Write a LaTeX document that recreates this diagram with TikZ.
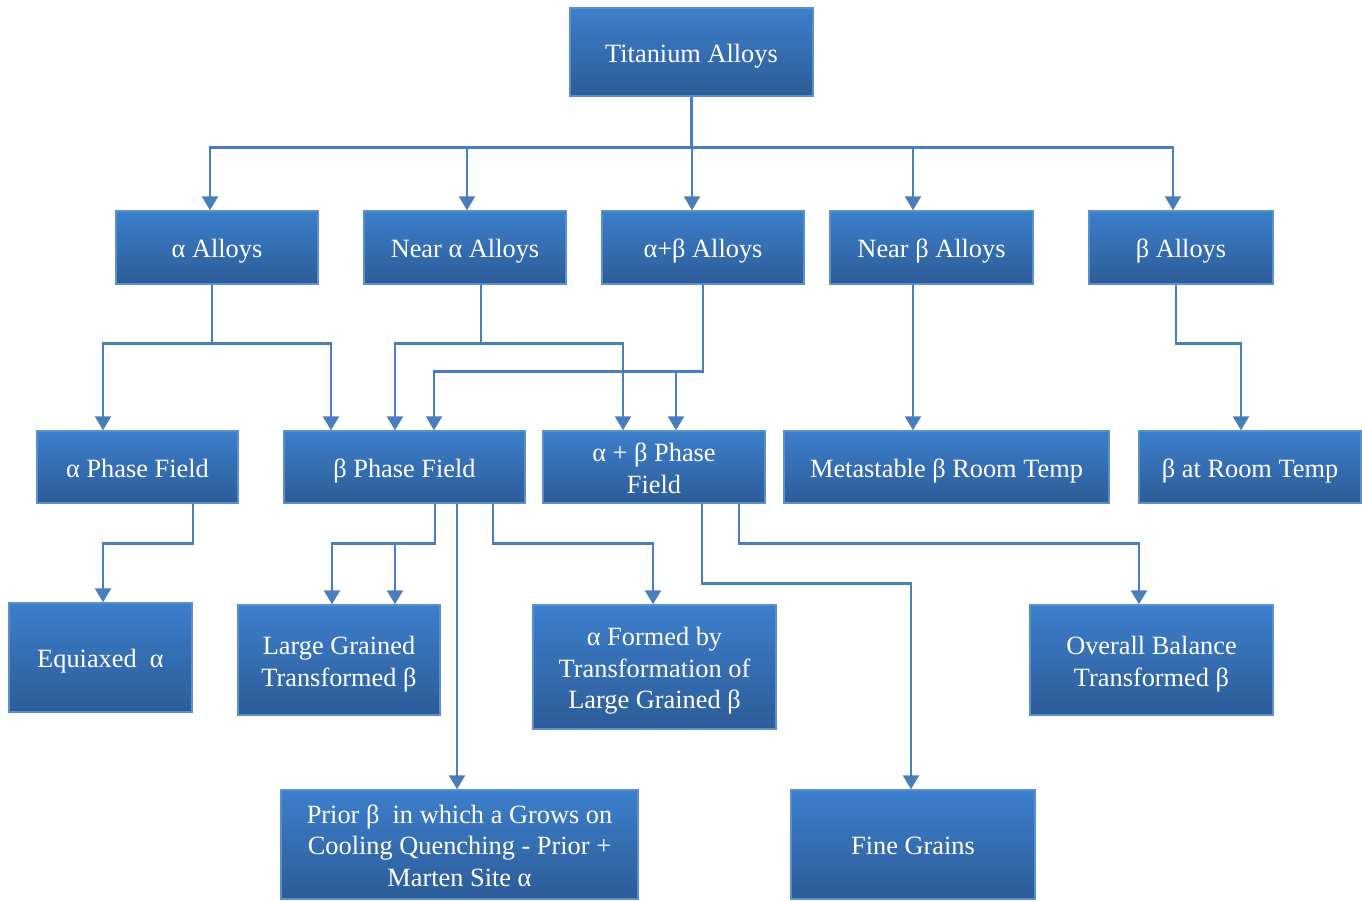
\documentclass[tikz,border=0pt]{standalone}
\usepackage{fontspec}
\setmainfont{Liberation Serif}
\newfontfamily\boxfont{Liberation Serif}
\usetikzlibrary{positioning, calc, arrows.meta}
\definecolor{BoxTop}{HTML}{3C7FCC}
\definecolor{BoxBottom}{HTML}{2D5C98}
\definecolor{BoxEdge}{HTML}{5A8FD0}
\definecolor{LinkBlue}{HTML}{4A7EBB}
% box text, set a little below the middle as in the original
\newcommand{\boxtext}[1]{\raisebox{-0.08cm}[\height][\depth]{\begin{tabular}{@{}c@{}}#1\end{tabular}}}

\begin{document}
\begin{tikzpicture}[
  x=0.02cm, y=-0.02cm,
  box/.style={draw=BoxEdge, line width=0.8pt, top color=BoxTop, bottom color=BoxBottom,
    text=white, inner sep=2pt,
    font=\boxfont\fontsize{15}{18}\selectfont},
  line/.style={LinkBlue, line width=1.4pt},
  arr/.style={line, -{Triangle[length=0.28cm, width=0.32cm]}},
]
  \def\u{0.02cm} % one pixel
  \useasboundingbox (0,0) rectangle (1362,900);

  % Root
  \node[box, minimum width=243*\u, minimum height=88*\u] (ti) at (691.5,52) {\boxtext{Titanium Alloys}};

  % Alloy classes
  \node[box, minimum width=202*\u, minimum height=73*\u] (aA)  at (217,247.5)   {\boxtext{α Alloys}};
  \node[box, minimum width=202*\u, minimum height=73*\u] (naA) at (465,247.5)   {\boxtext{Near α Alloys}};
  \node[box, minimum width=202*\u, minimum height=73*\u] (abA) at (703,247.5)   {\boxtext{α+β Alloys}};
  \node[box, minimum width=203*\u, minimum height=73*\u] (nbA) at (931.5,247.5) {\boxtext{Near β Alloys}};
  \node[box, minimum width=184*\u, minimum height=73*\u] (bA)  at (1181,247.5)  {\boxtext{β Alloys}};

  % Phase fields
  \node[box, minimum width=201*\u, minimum height=72*\u] (aPF)  at (137.5,467) {\boxtext{α Phase Field}};
  \node[box, minimum width=241*\u, minimum height=72*\u] (bPF)  at (404.5,467) {\boxtext{β Phase Field}};
  \node[box, minimum width=222*\u, minimum height=72*\u] (abPF) at (654,467)   {\boxtext{α + β Phase\\Field}};
  \node[box, minimum width=325*\u, minimum height=72*\u] (msb)  at (946.5,467) {\boxtext{Metastable β Room Temp}};
  \node[box, minimum width=222*\u, minimum height=72*\u] (bRT)  at (1250,467)  {\boxtext{β at Room Temp}};

  % Microstructures
  \node[box, minimum width=183*\u, minimum height=109*\u] (eqa) at (100.5,657.5) {\boxtext{Equiaxed~~α}};
  \node[box, minimum width=202*\u, minimum height=110*\u] (lgt) at (339,660) {\boxtext{Large Grained\\Transformed β}};
  \node[box, minimum width=243*\u, minimum height=124*\u] (afb) at (654.5,667) {\boxtext{α Formed by\\Transformation of\\Large Grained β}};
  \node[box, minimum width=243*\u, minimum height=110*\u] (ob)  at (1151.5,660) {\boxtext{Overall Balance\\Transformed β}};
  \node[box, minimum width=357*\u, minimum height=109*\u] (prior) at (459.5,844.5) {\boxtext{Prior β~~in which a Grows on\\Cooling Quenching - Prior +\\Marten Site α}};
  \node[box, minimum width=244*\u, minimum height=109*\u] (fg)  at (913,844.5) {\boxtext{Fine Grains}};

  % Root to classes
  \foreach \n/\dx in {aA/-7, naA/2, abA/-11, nbA/-18.5, bA/-8}
    \draw[arr] (ti.south) -- ++(0,51) -| ([xshift=\dx*\u]\n.north);

  % Classes to phase fields
  \foreach \n/\dx in {aPF/-34.5, bPF/-73.5}
    \draw[arr] ([xshift=-5*\u]aA.south) -- ++(0,59) -| ([xshift=\dx*\u]\n.north);
  \foreach \n/\dx in {bPF/-9.5, abPF/-31}
    \draw[arr] ([xshift=16*\u]naA.south) -- ++(0,59) -| ([xshift=\dx*\u]\n.north);
  \foreach \n/\dx in {bPF/29.5, abPF/22}
    \draw[arr] (abA.south) -- ++(0,87) -| ([xshift=\dx*\u]\n.north);
  \draw[arr] ([xshift=-18.5*\u]nbA.south) -- ([xshift=-18.5*\u]nbA.south |- msb.north);
  \draw[arr] ([xshift=-5*\u]bA.south) -- ++(0,59) -| ([xshift=-9*\u]bRT.north);

  % Phase fields to microstructures
  \draw[arr] ([xshift=55.5*\u]aPF.south) -- ++(0,40) -| ([xshift=2.5*\u]eqa.north);
  \foreach \dx in {-7, 56}
    \draw[arr] ([xshift=30.5*\u]bPF.south) -- ++(0,40) -| ([xshift=\dx*\u]lgt.north);
  \draw[arr] ([xshift=52.5*\u]bPF.south) -- ([xshift=52.5*\u]bPF.south |- prior.north);
  \draw[arr] ([xshift=88.5*\u]bPF.south) -- ++(0,40) -| ([xshift=-1.5*\u]afb.north);
  \draw[arr] ([xshift=48*\u]abPF.south) -- ++(0,80) -| ([xshift=-2*\u]fg.north);
  \draw[arr] ([xshift=85*\u]abPF.south) -- ++(0,40) -| ([xshift=-12.5*\u]ob.north);
\end{tikzpicture}
\end{document}
